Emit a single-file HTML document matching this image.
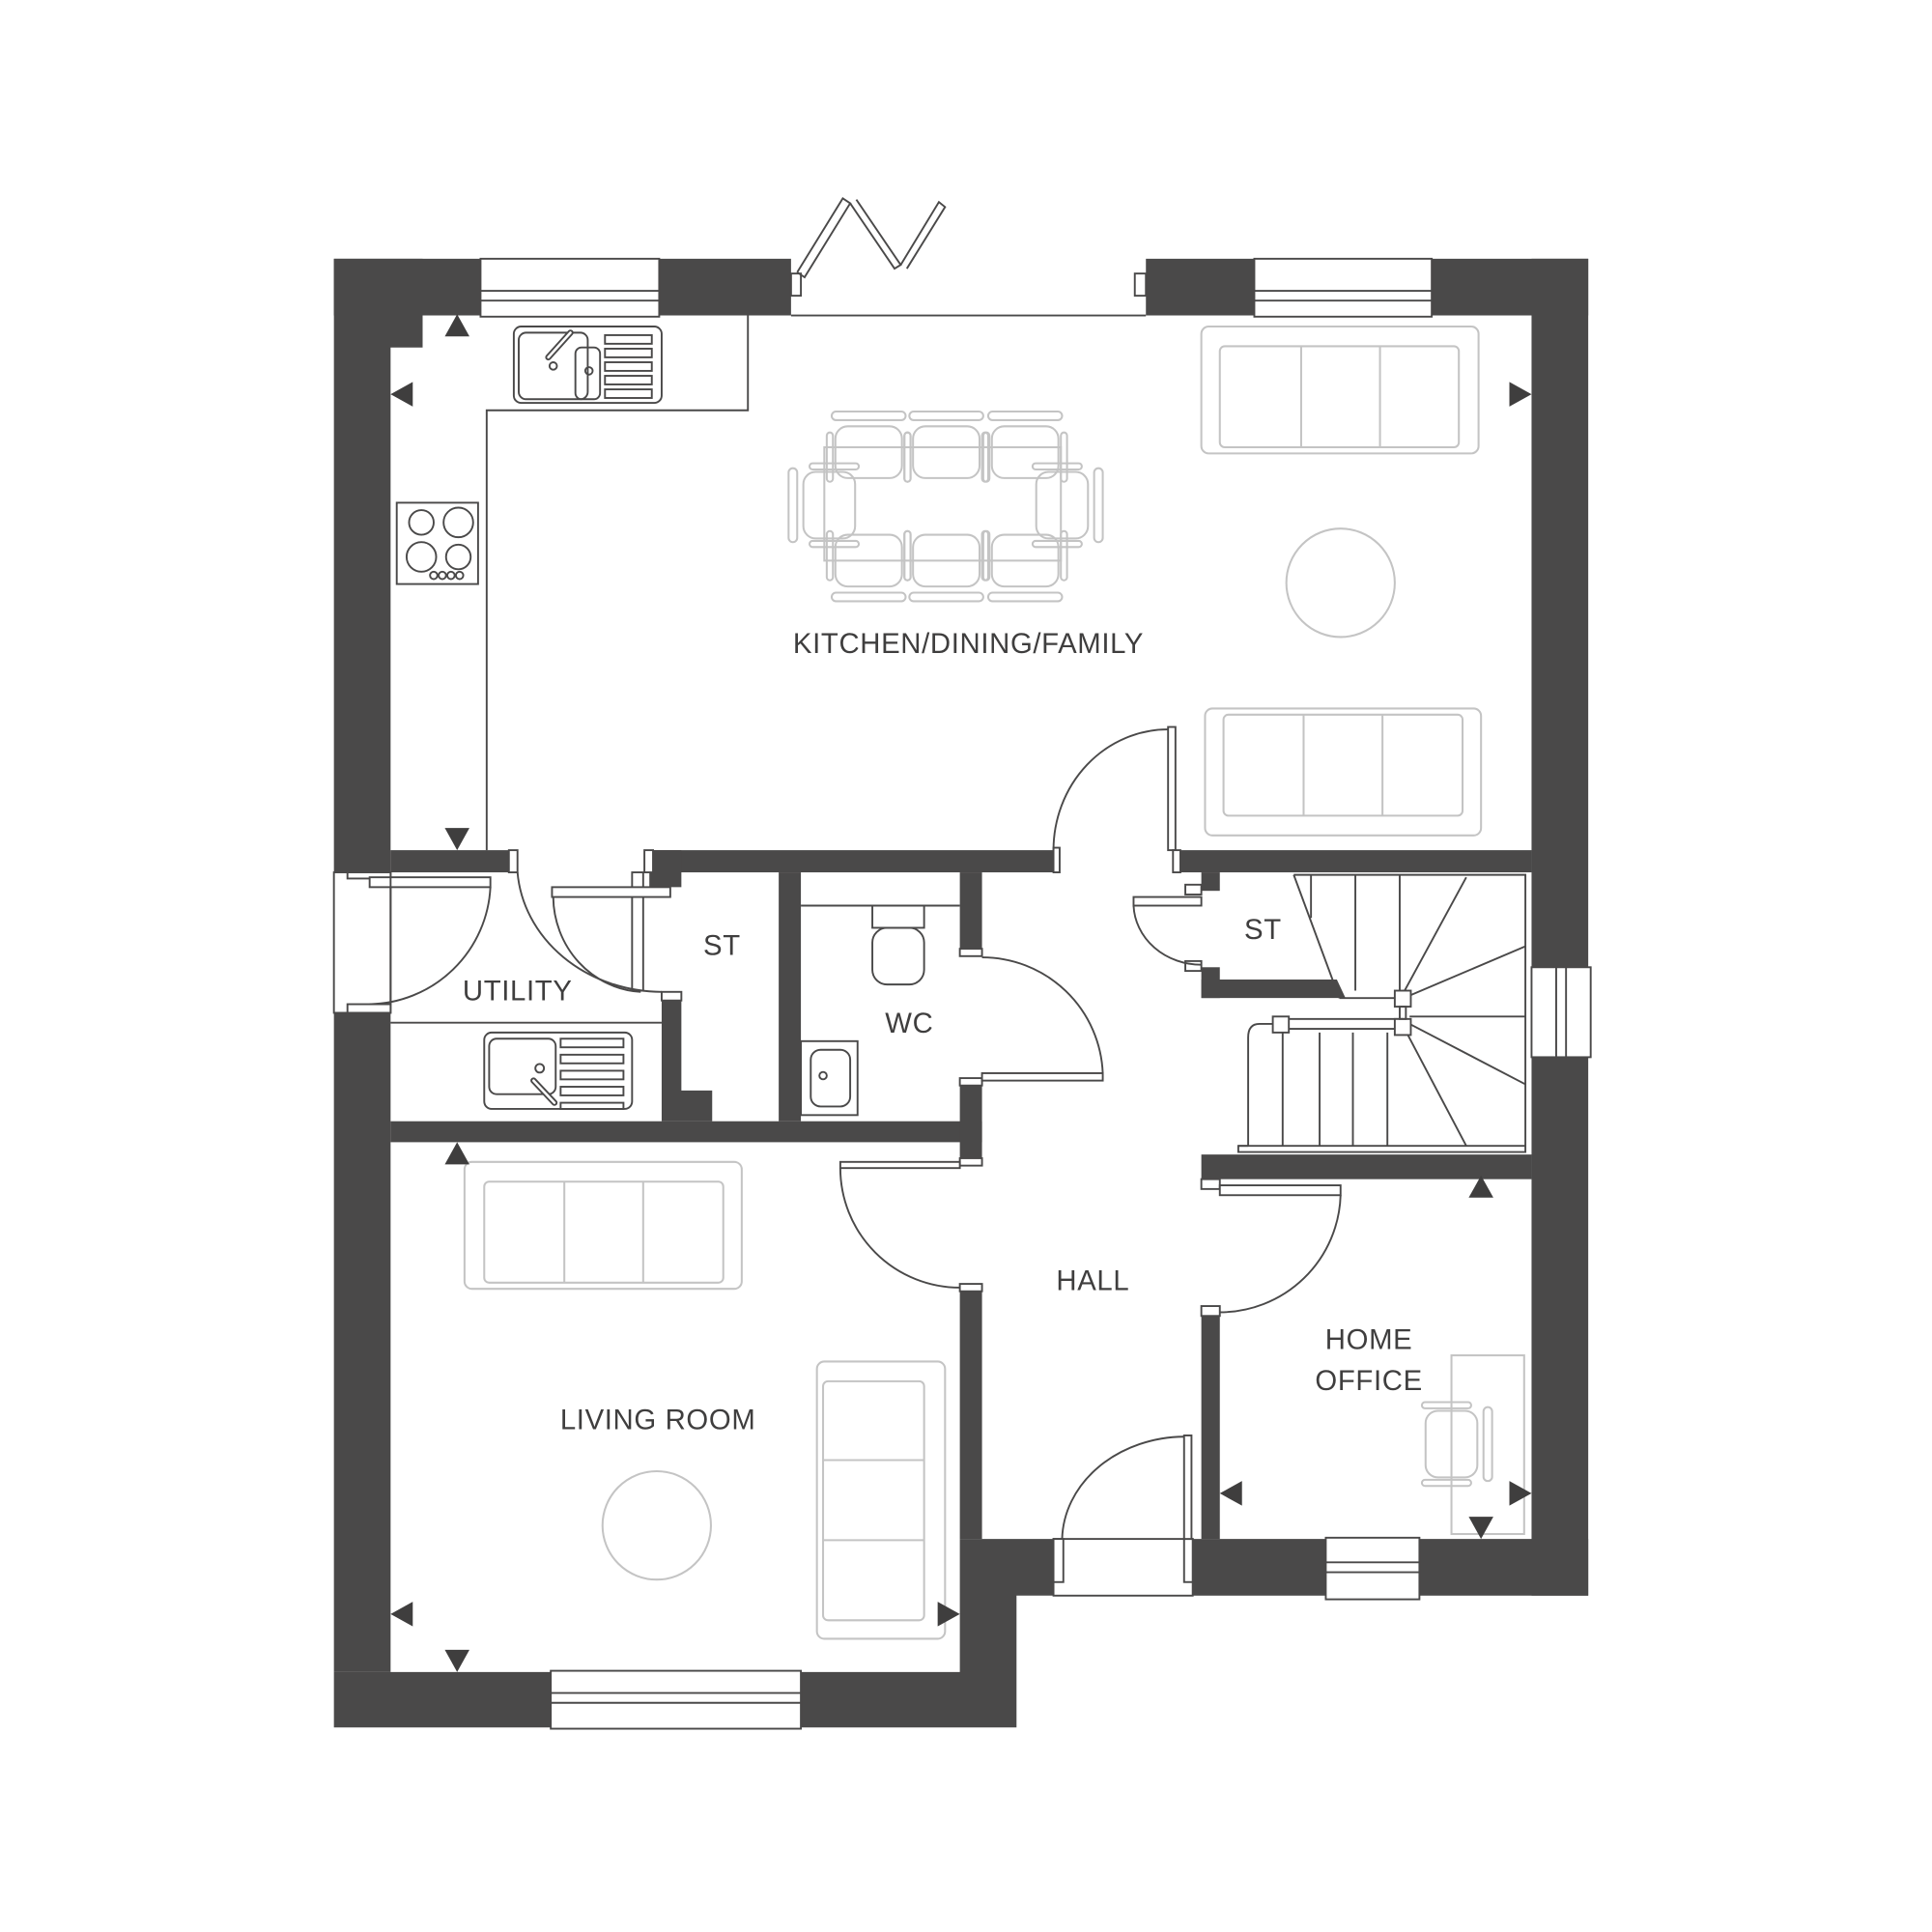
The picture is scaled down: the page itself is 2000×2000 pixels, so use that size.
<!DOCTYPE html>
<html><head><meta charset="utf-8"><style>
html,body{margin:0;padding:0;background:#fff;}
svg{display:block;}
text{font-family:"Liberation Sans",sans-serif;fill:#3f3e3e;font-size:23px;letter-spacing:0.5px;}
</style></head><body>
<svg width="2000" height="2000" viewBox="0 0 1568 1568" xmlns="http://www.w3.org/2000/svg">
<defs>
<g id="chairV">
 <rect x="-27" y="-21" width="54" height="42" rx="10" fill="none"/>
 <rect x="-30" y="-33" width="60" height="7" rx="3.5" fill="none"/>
 <rect x="-34" y="-16" width="5" height="40" rx="2.5" fill="none"/>
 <rect x="29" y="-16" width="5" height="40" rx="2.5" fill="none"/>
</g>
<g id="chairH">
 <rect x="-21" y="-27" width="42" height="54" rx="10" fill="none"/>
 <rect x="-33" y="-30" width="7" height="60" rx="3.5" fill="none"/>
 <rect x="-16" y="-34" width="40" height="5" rx="2.5" fill="none"/>
 <rect x="-16" y="29" width="40" height="5" rx="2.5" fill="none"/>
</g>
</defs>
<g fill="#4a4949" stroke="none">
 <rect x="271" y="210" width="371" height="46"/>
 <rect x="930" y="210" width="359" height="46"/>
 <polygon points="271,210 343,210 343,282 317,282 317,1357 271,1357"/>
 <rect x="1243" y="210" width="46" height="1085"/>
 <polygon points="271,1357 779,1357 779,1249 855,1249 855,1295 825,1295 825,1402 271,1402"/>
 <rect x="968" y="1249" width="321" height="46"/>
 <rect x="317" y="690" width="100" height="18"/>
 <rect x="527" y="690" width="328" height="18"/>
 <rect x="958" y="690" width="285" height="18"/>
 <rect x="317" y="910" width="480" height="17"/>
 <rect x="527" y="690" width="26" height="30"/>
 <polygon points="537,808 553,808 553,885 578,885 578,910 537,910"/>
 <rect x="632" y="708" width="18" height="202"/>
 <rect x="779" y="708" width="18" height="67"/>
 <rect x="779" y="875" width="18" height="65"/>
 <rect x="779" y="1047" width="18" height="202"/>
 <rect x="975" y="708" width="15" height="15"/>
 <rect x="975" y="785" width="15" height="25"/>
 <polygon points="975,795 1085,795 1092,810 975,810"/>
 <rect x="975" y="937" width="268" height="20"/>
 <rect x="975" y="1065" width="15" height="184"/>
</g>
<g fill="#fff" stroke="#4a4949" stroke-width="1.5">
 <rect x="390" y="210" width="145" height="47"/>
 <line x1="390" y1="236" x2="535" y2="236"/><line x1="390" y1="244" x2="535" y2="244"/>
 <rect x="1018" y="210" width="144" height="47"/>
 <line x1="1018" y1="236" x2="1162" y2="236"/><line x1="1018" y1="244" x2="1162" y2="244"/>
 <rect x="447" y="1356" width="203" height="47"/>
 <line x1="447" y1="1374" x2="650" y2="1374"/><line x1="447" y1="1382" x2="650" y2="1382"/>
 <rect x="1076" y="1248" width="76" height="50"/>
 <line x1="1076" y1="1268" x2="1152" y2="1268"/><line x1="1076" y1="1276" x2="1152" y2="1276"/>
 <rect x="1243" y="785" width="48" height="73"/>
 <line x1="1263" y1="785" x2="1263" y2="858"/><line x1="1271" y1="785" x2="1271" y2="858"/>
 <rect x="271" y="708" width="46" height="114"/>
 <rect x="855" y="1249" width="113" height="46"/>
</g>
<g fill="none" stroke="#4a4949" stroke-width="1.5">
 <rect x="642" y="222" width="8" height="18" fill="#fff"/>
 <rect x="921" y="222" width="9" height="18" fill="#fff"/>
 <polyline points="647,221 684,161 690,165 653,225 647,221"/>
 <polyline points="690,165 726,218 731,215 695,162"/>
 <polyline points="731,215 762,164 767,168 736,218"/>
 <line x1="642" y1="256" x2="930" y2="256"/>
 <polyline points="607,256 607,333 395,333 395,690"/>
 <rect x="417" y="265" width="120" height="62" rx="6"/>
 <rect x="421" y="270" width="56" height="54" rx="6"/>
 <rect x="467" y="282" width="20" height="42" rx="5"/>
 <circle cx="449" cy="297" r="3"/><circle cx="478" cy="301" r="3"/>
 <line x1="445" y1="290" x2="463" y2="270" stroke-width="5" stroke-linecap="round"/>
 <line x1="445" y1="290" x2="463" y2="270" stroke="#fff" stroke-width="2" stroke-linecap="round"/>
 <rect x="491" y="272" width="38" height="7"/><rect x="491" y="283" width="38" height="7"/><rect x="491" y="294" width="38" height="7"/><rect x="491" y="305" width="38" height="7"/><rect x="491" y="316" width="38" height="7"/>
 <rect x="322" y="408" width="66" height="66"/>
 <circle cx="342" cy="424" r="10"/><circle cx="372" cy="424" r="12"/><circle cx="342" cy="452" r="12"/><circle cx="372" cy="452" r="10"/>
 <circle cx="352" cy="467" r="3"/><circle cx="359" cy="467" r="3"/><circle cx="366" cy="467" r="3"/><circle cx="373" cy="467" r="3"/>
 <rect x="282" y="708" width="35" height="5" fill="#fff"/>
 <rect x="282" y="815" width="35" height="7" fill="#fff"/>
 <rect x="300" y="712" width="98" height="8" fill="#fff"/>
 <line x1="317" y1="712" x2="317" y2="815"/>
 <path d="M398,720 A100,100 0 0 1 300,815"/>
 <rect x="413" y="690" width="7" height="18" fill="#fff"/>
 <path d="M420,708 A118,105 0 0 0 537,805"/>
 <rect x="523" y="690" width="7" height="18" fill="#fff"/>
 <rect x="513" y="708" width="9" height="96"/>
 <rect x="448" y="720" width="96" height="8" fill="#fff"/>
 <path d="M449,728 A75,78 0 0 0 520,805"/>
 <rect x="537" y="805" width="16" height="7" fill="#fff"/>
 <line x1="317" y1="830" x2="537" y2="830"/>
 <rect x="393" y="838" width="120" height="62" rx="6"/>
 <rect x="397" y="843" width="54" height="45" rx="6"/>
 <circle cx="438" cy="867" r="3.5"/>
 <line x1="433" y1="877" x2="450" y2="895" stroke-width="5" stroke-linecap="round"/>
 <line x1="433" y1="877" x2="450" y2="895" stroke="#fff" stroke-width="2" stroke-linecap="round"/>
 <rect x="455" y="843" width="51" height="7"/><rect x="455" y="856" width="51" height="7"/><rect x="455" y="869" width="51" height="7"/><rect x="455" y="882" width="51" height="7"/><rect x="455" y="895" width="51" height="5"/>
 <line x1="650" y1="735" x2="779" y2="735"/>
 <rect x="708" y="735" width="42" height="18"/>
 <rect x="708" y="753" width="42" height="46" rx="12"/>
 <rect x="650" y="845" width="46" height="60"/>
 <rect x="658" y="852" width="32" height="46" rx="8"/>
 <circle cx="668" cy="873" r="3"/>
 <rect x="779" y="770" width="18" height="6" fill="#fff"/>
 <rect x="779" y="875" width="18" height="6" fill="#fff"/>
 <rect x="797" y="871" width="98" height="6" fill="#fff"/>
 <path d="M797,777 A98,98 0 0 1 895,871"/>
 <rect x="855" y="688" width="5" height="20" fill="#fff"/>
 <rect x="948" y="590" width="6" height="100" fill="#fff"/>
 <rect x="952" y="690" width="6" height="18" fill="#fff"/>
 <path d="M948,592 A93,98 0 0 0 855,690"/>
 <rect x="779" y="940" width="18" height="6" fill="#fff"/>
 <rect x="779" y="1042" width="18" height="6" fill="#fff"/>
 <rect x="682" y="943" width="97" height="5" fill="#fff"/>
 <path d="M682,948 A97,97 0 0 0 779,1045"/>
 <rect x="975" y="957" width="15" height="8" fill="#fff"/>
 <rect x="975" y="1060" width="15" height="8" fill="#fff"/>
 <rect x="990" y="962" width="98" height="8" fill="#fff"/>
 <path d="M1088,970 A98,98 0 0 1 990,1065"/>
 <rect x="962" y="718" width="13" height="8" fill="#fff"/>
 <rect x="962" y="780" width="13" height="8" fill="#fff"/>
 <rect x="920" y="728" width="55" height="7" fill="#fff"/>
 <path d="M920,735 A55,50 0 0 0 975,783"/>
 <rect x="855" y="1249" width="8" height="35" fill="#fff"/>
 <rect x="961" y="1249" width="7" height="35" fill="#fff"/>
 <rect x="961" y="1165" width="6" height="84" fill="#fff"/>
 <path d="M961,1166 A100,85 0 0 0 862,1249"/>
 <polyline points="1050,710 1238,710 1238,935 1005,935 1005,930 1013,930"/>
 <line x1="1050" y1="710" x2="1087" y2="810"/>
 <line x1="1087" y1="810" x2="1135" y2="810"/>
 <line x1="1064" y1="710" x2="1064" y2="745"/>
 <line x1="1100" y1="710" x2="1100" y2="804"/>
 <line x1="1136" y1="710" x2="1136" y2="804"/>
 <line x1="1140" y1="804" x2="1190" y2="712"/>
 <line x1="1144" y1="808" x2="1238" y2="768"/>
 <line x1="1144" y1="825" x2="1238" y2="825"/>
 <line x1="1144" y1="831" x2="1238" y2="880"/>
 <line x1="1140" y1="835" x2="1190" y2="930"/>
 <rect x="1040" y="827" width="98" height="8" fill="#fff"/>
 <rect x="1033" y="825" width="13" height="13" fill="#fff"/>
 <rect x="1132" y="804" width="13" height="13" fill="#fff"/>
 <rect x="1132" y="827" width="13" height="13" fill="#fff"/>
 <rect x="1136" y="817" width="5" height="10"/>
 <path d="M1033,831 L1022,831 Q1013,831 1013,842 L1013,930"/>
 <line x1="1041" y1="838" x2="1041" y2="930"/>
 <line x1="1071" y1="838" x2="1071" y2="930"/>
 <line x1="1098" y1="838" x2="1098" y2="930"/>
 <line x1="1126" y1="838" x2="1126" y2="930"/>
 <line x1="1005" y1="930" x2="1238" y2="930"/>
</g>
<g fill="none" stroke="#c4c4c4" stroke-width="1.6">
 <rect x="669" y="363" width="192" height="92"/>
 <use href="#chairV" x="705" y="367"/><use href="#chairV" x="768" y="367"/><use href="#chairV" x="832" y="367"/>
 <use href="#chairV" x="705" y="455" transform="rotate(180 705 455)"/><use href="#chairV" x="768" y="455" transform="rotate(180 768 455)"/><use href="#chairV" x="832" y="455" transform="rotate(180 832 455)"/>
 <use href="#chairH" x="673" y="410"/><use href="#chairH" x="862" y="410" transform="rotate(180 862 410)"/>
 <rect x="975" y="265" width="225" height="103" rx="6"/>
 <rect x="990" y="281" width="194" height="82" rx="4"/>
 <line x1="1056" y1="281" x2="1056" y2="363"/><line x1="1120" y1="281" x2="1120" y2="363"/>
 <rect x="978" y="575" width="224" height="103" rx="6"/>
 <rect x="993" y="580" width="194" height="82" rx="4"/>
 <line x1="1058" y1="580" x2="1058" y2="662"/><line x1="1122" y1="580" x2="1122" y2="662"/>
 <circle cx="1088" cy="473" r="44"/>
 <rect x="377" y="943" width="225" height="103" rx="6"/>
 <rect x="393" y="959" width="194" height="82" rx="4"/>
 <line x1="458" y1="959" x2="458" y2="1041"/><line x1="522" y1="959" x2="522" y2="1041"/>
 <rect x="663" y="1105" width="104" height="225" rx="6"/>
 <rect x="668" y="1121" width="82" height="194" rx="4"/>
 <line x1="668" y1="1185" x2="750" y2="1185"/><line x1="668" y1="1250" x2="750" y2="1250"/>
 <circle cx="533" cy="1238" r="44"/>
 <rect x="1178" y="1100" width="59" height="145"/>
 <use href="#chairH" x="1178" y="1172" transform="rotate(180 1178 1172)"/>
</g>
<g fill="#3f3e3e">
 <polygon points="371,255 361,273 381,273"/>
 <polygon points="317,320 335,310 335,330"/>
 <polygon points="1243,320 1225,310 1225,330"/>
 <polygon points="371,690 361,672 381,672"/>
 <polygon points="371,927 361,945 381,945"/>
 <polygon points="317,1310 335,1300 335,1320"/>
 <polygon points="779,1310 761,1300 761,1320"/>
 <polygon points="371,1357 361,1339 381,1339"/>
 <polygon points="1202,954 1192,972 1212,972"/>
 <polygon points="990,1212 1008,1202 1008,1222"/>
 <polygon points="1243,1212 1225,1202 1225,1222"/>
 <polygon points="1202,1249 1192,1231 1212,1231"/>
</g>
<g text-anchor="middle">
 <text x="786" y="530">KITCHEN/DINING/FAMILY</text>
 <text x="420" y="812">UTILITY</text>
 <text x="586" y="775">ST</text>
 <text x="738" y="838">WC</text>
 <text x="1025" y="762">ST</text>
 <text x="887" y="1047">HALL</text>
 <text x="1111" y="1095">HOME</text>
 <text x="1111" y="1128">OFFICE</text>
 <text x="534" y="1160">LIVING ROOM</text>
</g>
</svg>
</body></html>
